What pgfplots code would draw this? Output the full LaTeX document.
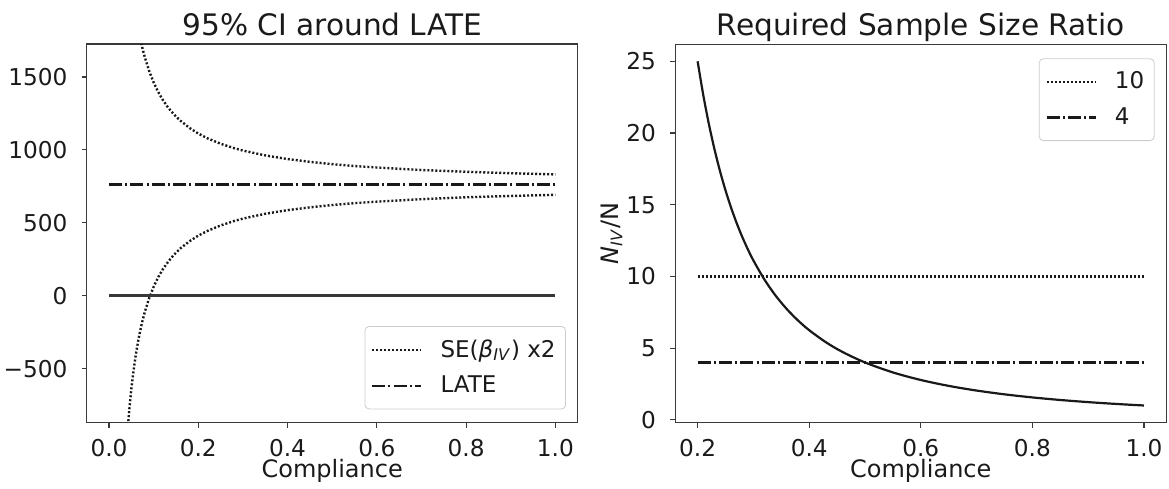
\documentclass[border=0pt]{standalone}
\usepackage{fontspec}
\setmainfont{DejaVu Sans}
\usepackage{pgfplots}
\pgfplotsset{compat=1.18}
\definecolor{spine}{HTML}{3A3A3A}
\definecolor{txt}{HTML}{1A1A1A}
\newcommand{\tickfont}{\fontsize{11.6}{14}\selectfont}
\newcommand{\labfont}{\fontsize{12}{14.4}\selectfont}
\newcommand{\legfont}{\fontsize{11.5}{13.8}\selectfont}
\newcommand{\titlefont}{\fontsize{14.8}{17.8}\selectfont}
\pgfplotsset{
  mybase/.style={
    scale only axis, width=245.5pt, height=189.3pt,
    axis line style={spine, line width=0.6pt},
    tick style={spine, line width=0.6pt},
    major tick length=2.5pt, tick align=outside,
    xtick pos=bottom, ytick pos=left,
    /pgf/number format/assume math mode=true,
    tick label style={font=\tickfont, text=txt},
    xticklabel style={anchor=base, yshift=-14.15pt},
    yticklabel style={anchor=east, inner sep=0pt, xshift=-7pt},
    label style={font=\labfont, text=txt},
    every axis title shift=0pt,
    title style={font=\titlefont, text=txt, at={(axis description cs:0.5,1.023)}, anchor=base},
    xlabel style={at={(axis description cs:0.5,-0.146)}, anchor=base},
    legend cell align=left,
    legend image code/.code={\draw[#1] (0pt,0pt) -- (24.5pt,0pt);},
    legend style={draw=black!20, rounded corners=2pt, fill=white, font=\legfont, text=txt,
      inner xsep=3pt, inner ysep=4.5pt, row sep=4pt, column sep=7pt, nodes={inner xsep=2pt}},
  },
  dotsty/.style={black!90, line width=1.2pt, dash pattern=on 1pt off 1pt},
  dashdot/.style={black!90, line width=1.3pt, dash pattern=on 6.5pt off 1.6pt on 1pt off 1.6pt},
}
\begin{document}
\begin{tikzpicture}
\begin{axis}[mybase,
  title={95\% CI around LATE},
  xlabel={Compliance},
  xmin=-0.05, xmax=1.05, ymin=-870, ymax=1725,
  xtick={0,0.2,0.4,0.6,0.8,1.0},
  xticklabels={0.0,0.2,0.4,0.6,0.8,1.0},
  ytick={-500,0,500,1000,1500},
  yticklabels={−500,0,500,1000,1500},
  legend style={at={(axis description cs:1,0)}, anchor=south east, xshift=-5.85pt, yshift=6.7pt},
  clip=true,
]
\addplot[dotsty] coordinates {
(0.03,3095) (0.035,2762) (0.04,2512) (0.045,2318) (0.05,2162) (0.055,2035) (0.06,1929)
(0.065,1839) (0.07,1762) (0.075,1695) (0.08,1637) (0.09,1540) (0.10,1462) (0.11,1398)
(0.12,1345) (0.13,1300) (0.14,1262) (0.15,1229) (0.16,1200) (0.18,1151) (0.20,1112)
(0.22,1080) (0.25,1042) (0.28,1012) (0.30,995) (0.35,962) (0.40,937) (0.45,918)
(0.50,902) (0.55,889) (0.60,879) (0.70,862) (0.80,850) (0.90,840) (1.00,832)
};
\addlegendentry{SE(\textit{β}\textsubscript{\textit{IV}}) x2}
\addplot[dashdot] coordinates {(0,762) (1,762)};
\addlegendentry{LATE}
\addplot[dotsty, forget plot] coordinates {
(0.03,-1571) (0.035,-1238) (0.04,-988) (0.045,-794) (0.05,-638) (0.055,-511) (0.06,-405)
(0.065,-315) (0.07,-238) (0.075,-171) (0.08,-113) (0.09,-16) (0.10,62) (0.11,126)
(0.12,179) (0.13,223) (0.14,262) (0.15,295) (0.16,325) (0.18,373) (0.20,412)
(0.22,444) (0.25,482) (0.28,512) (0.30,529) (0.35,562) (0.40,587) (0.45,606)
(0.50,622) (0.55,635) (0.60,645) (0.70,662) (0.80,675) (0.90,684) (1.00,692)
};
\addplot[black!78, line width=1.6pt, forget plot] coordinates {(0,0) (1,0)};
\end{axis}
\begin{axis}[mybase, at={(294.3pt,0pt)},
  title={Required Sample Size Ratio},
  xlabel={Compliance},
  ylabel={\textit{N}\textsubscript{\textit{IV}}/N},
  ylabel style={at={(axis description cs:-0.1295,0.5)}, anchor=center},
  xmin=0.16, xmax=1.04, ymin=-0.2, ymax=26.2,
  xtick={0.2,0.4,0.6,0.8,1.0},
  xticklabels={0.2,0.4,0.6,0.8,1.0},
  ytick={0,5,10,15,20,25},
  yticklabels={0,5,10,15,20,25},
  legend style={at={(axis description cs:1,1)}, anchor=north east, xshift=-5.85pt, yshift=-7.15pt},
]
\addplot[dotsty] coordinates {(0.2,10) (1,10)};
\addlegendentry{10}
\addplot[dashdot] coordinates {(0.2,4) (1,4)};
\addlegendentry{4}
\addplot[black!90, line width=1.1pt, smooth, forget plot] coordinates {
(0.20,25) (0.21,22.676) (0.22,20.661) (0.23,18.904) (0.24,17.361) (0.25,16)
(0.26,14.793) (0.27,13.717) (0.28,12.755) (0.29,11.891) (0.30,11.111) (0.32,9.766)
(0.34,8.651) (0.36,7.716) (0.38,6.925) (0.40,6.25) (0.43,5.408) (0.46,4.726)
(0.50,4) (0.55,3.306) (0.60,2.778) (0.65,2.367) (0.70,2.041) (0.75,1.778)
(0.80,1.5625) (0.85,1.384) (0.90,1.235) (0.95,1.108) (1.00,1)
};
\end{axis}
\pgfresetboundingbox
\path (-43.35pt,-32.65pt) rectangle (541.15pt,211.35pt);
\end{tikzpicture}
\end{document}
